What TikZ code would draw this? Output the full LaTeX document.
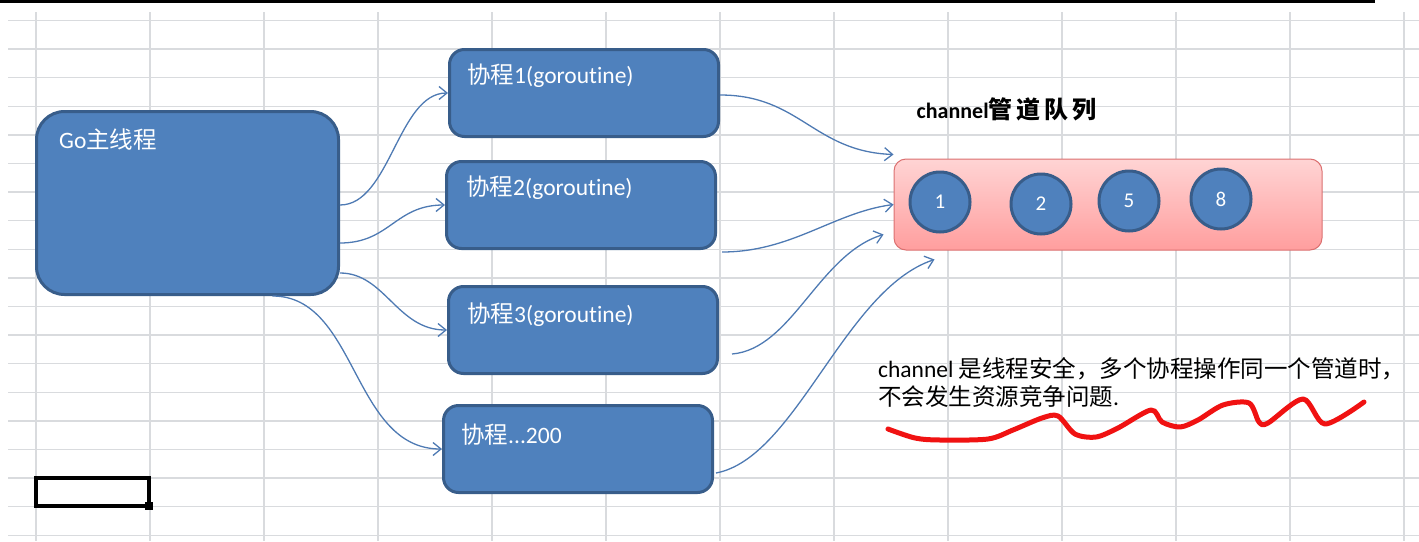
\documentclass[tikz,border=0pt]{standalone}
\usepackage{fontspec}
\usepackage{xcolor}
\usepackage{tikz}
\usetikzlibrary{arrows.meta,positioning}
\setmainfont{Carlito}[Ligatures=NoCommon]
\newfontfamily\cjk{Noto Sans CJK SC}
\newcommand{\zh}[1]{{\cjk #1}}
\definecolor{boxblue}{HTML}{4F81BD}
\definecolor{boxedge}{HTML}{385D8A}
\definecolor{linkblue}{HTML}{4E7AB3}
\definecolor{gridgray}{HTML}{D9DBDE}
\definecolor{chantop}{HTML}{FFD4D4}
\definecolor{chanbottom}{HTML}{FF9E9E}
\definecolor{chanedge}{HTML}{DB7070}
\definecolor{penred}{HTML}{F01212}

\tikzset{
  gridline/.style={draw=gridgray, line width=1.4pt},
  threadbox/.style={draw=boxedge, fill=boxblue, line width=3pt, rounded corners=#1, inner sep=0pt},
  boxtext/.style={text=white, inner sep=0pt, font=\fontsize{23.5}{27}\selectfont},
  chanbox/.style={draw=chanedge, line width=1pt, top color=chantop, bottom color=chanbottom, rounded corners=12pt},
  slot/.style={circle, draw=boxedge, fill=boxblue, line width=3pt, minimum size=60pt, inner sep=0pt,
    text=white, font=\fontsize{21}{24}\selectfont},
  link/.style={draw=linkblue, line width=1.3pt, -{Straight Barb[length=8pt,width=13pt]}},
  penstroke/.style={draw=penred, line width=5pt, line cap=round, line join=round}
}

\begin{document}
\begin{tikzpicture}[x=1pt, y=-1pt]
\useasboundingbox (0,0) rectangle (1419,541);
% spreadsheet grid
\foreach \r in {0,...,18}
  \draw[gridline] (8,20.5+28.6*\r) -- (1419,20.5+28.6*\r);
\foreach \c in {0,...,12}
  \draw[gridline] (36+114*\c,12) -- (36+114*\c,541);
\draw[line width=3pt] (0,1.5) -- (1375,1.5);

% main thread and goroutines
\node[threadbox=28pt, minimum width=302pt, minimum height=183pt] (go) at (187.5,203) {};
\node[threadbox=15pt, minimum width=269pt, minimum height=87pt] (c1) at (584,93) {};
\node[threadbox=15pt, minimum width=269pt, minimum height=87pt] (c2) at (581,205) {};
\node[threadbox=15pt, minimum width=269pt, minimum height=87pt] (c3) at (583,330) {};
\node[threadbox=15pt, minimum width=269pt, minimum height=87pt] (c200) at (578,449) {};

\node[boxtext, below right=19pt and 24pt of go.north west] (gotext) {Go\zh{主线程}};
\node[boxtext, below right=16pt and 19pt of c1.north west] (c1text) {\zh{协程}1(goroutine)};
\node[boxtext, below right=16pt and 21pt of c2.north west] (c2text) {\zh{协程}2(goroutine)};
\node[boxtext, below right=18pt and 20pt of c3.north west] (c3text) {\zh{协程}3(goroutine)};
\node[boxtext, below right=20pt and 19pt of c200.north west] (c200text) {\zh{协程}...200};

% channel queue
\node[chanbox, minimum width=428pt, minimum height=91pt] (chan) at (1108,204.5) {};
\node[inner sep=0pt, font=\fontsize{22}{26}\selectfont\bfseries, above right=37pt and 23pt of chan.north west]
  (chantitle) {channel{\cjk\fontsize{24}{26}\selectfont 管\,道\,队\,列}};
\node[slot] (s1) at (940,202) {1};
\node[slot] (s2) at (1041,204) {2};
\node[slot] (s5) at (1129,201) {5};
\node[slot] (s8) at (1221,199) {8};

\node[inner sep=0pt, anchor=north west, align=left, font=\fontsize{23.5}{28}\selectfont] (note) at (878,357)
  {channel \zh{是线程安全，多个协程操作同一个管道时，}\\\zh{不会发生资源竞争问题}.};

% connectors
\draw[link] ([yshift=-2pt]go.east) .. controls +(50,0) and +(-50,0) .. (c1.west);
\draw[link] ([yshift=-40pt]go.east) .. controls +(50,0) and +(-50,0) .. (c2.west);
\draw[link] ([yshift=-70pt]go.east) .. controls +(45,0) and +(-50,0) .. (c3.west);
\draw[link] ([xshift=85pt]go.south) .. controls +(85,0) and +(-90,0) .. (c200.west);

\draw[link] ([yshift=-2pt]c1.east) .. controls +(80,0) and +(-80,-3) .. ([yshift=4pt]chan.north west);
\draw[link] ([shift={(5pt,-2pt)}]c2.south east) .. controls +(70,0) and +(-60,8) .. (chan.west);
\draw[link] ([shift={(13pt,21pt)}]c3.south east) .. controls +(60,-5) and +(-65,20) .. ([shift={(-10pt,16pt)}]chan.south west);
\draw[link] ([shift={(2pt,-24pt)}]c200.east) .. controls +(80,-15) and +(-90,30) .. ([shift={(41pt,-9pt)}]chan.south west);

% hand-drawn underline
\draw[penstroke] plot[smooth, tension=0.5] coordinates {(888,429) (915,438) (940,440) (988,439)
  (1013,430) (1042,418) (1058,416) (1075,434) (1096,437) (1118,428) (1151,410) (1162,422)
  (1180,427) (1198,420) (1223,405) (1249,403) (1259,422) (1268,423) (1303,399) (1325,424) (1364,402)};

% selected cell
\draw[line width=3.5pt] (36,478) rectangle (149,506);
\fill (145,502) rectangle (153,510);
\end{tikzpicture}
\end{document}
